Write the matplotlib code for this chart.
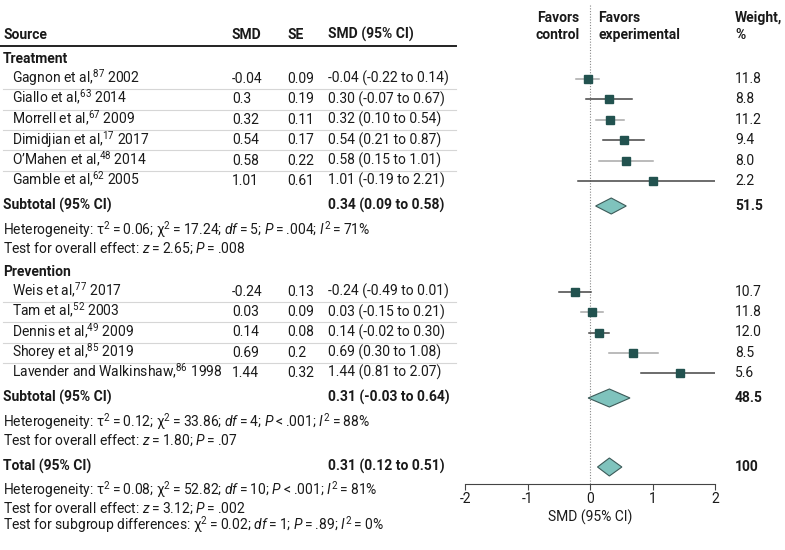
import matplotlib
matplotlib.use("Agg")
import matplotlib.pyplot as plt

plt.rcParams['font.family'] = ['Roboto', 'DejaVu Sans']
plt.rcParams['mathtext.fontset'] = 'custom'
plt.rcParams['mathtext.rm'] = 'Roboto'
plt.rcParams['mathtext.it'] = 'Roboto:italic'
plt.rcParams['mathtext.bf'] = 'Roboto:bold'
plt.rcParams['axes.unicode_minus'] = False

# data
treat_names = ["Gagnon et al,$^{87}$ 2002", "Giallo et al,$^{63}$ 2014", "Morrell et al,$^{67}$ 2009",
               "Dimidjian et al,$^{17}$ 2017", "O\u2019Mahen et al,$^{48}$ 2014", "Gamble et al,$^{62}$ 2005"]
treat_smd = [-0.04, 0.3, 0.32, 0.54, 0.58, 1.01]
treat_se = [0.09, 0.19, 0.11, 0.17, 0.22, 0.61]
treat_lo = [-0.22, -0.07, 0.10, 0.21, 0.15, -0.19]
treat_hi = [0.14, 0.67, 0.54, 0.87, 1.01, 2.21]
treat_w = [11.8, 8.8, 11.2, 9.4, 8.0, 2.2]

prev_names = ["Weis et al,$^{77}$ 2017", "Tam et al,$^{52}$ 2003", "Dennis et al,$^{49}$ 2009",
              "Shorey et al,$^{85}$ 2019", "Lavender and Walkinshaw,$^{86}$ 1998"]
prev_smd = [-0.24, 0.03, 0.14, 0.69, 1.44]
prev_se = [0.13, 0.09, 0.08, 0.2, 0.32]
prev_lo = [-0.49, -0.15, -0.02, 0.30, 0.81]
prev_hi = [0.01, 0.21, 0.30, 1.08, 2.07]
prev_w = [10.7, 11.8, 12.0, 8.5, 5.6]

# pooled: estimate, low, high, weight
sub_treat = [0.34, 0.09, 0.58, 51.5]
sub_prev = [0.31, -0.03, 0.64, 48.5]
total = [0.31, 0.12, 0.51, 100]

E = "\u2009=\u2009"
L = "\u2009<\u2009"
het_treat = ["Heterogeneity: \u03c4$^2$" + E + "0.06; \u03c7$^2$" + E + "17.24; $df$" + E + "5; $P$" + E + ".004; $I^2$" + E + "71%",
             "Test for overall effect: $z$" + E + "2.65; $P$" + E + ".008"]
het_prev = ["Heterogeneity: \u03c4$^2$" + E + "0.12; \u03c7$^2$" + E + "33.86; $df$" + E + "4; $P$" + L + ".001; $I^2$" + E + "88%",
            "Test for overall effect: $z$" + E + "1.80; $P$" + E + ".07"]
het_total = ["Heterogeneity: \u03c4$^2$" + E + "0.08; \u03c7$^2$" + E + "52.82; $df$" + E + "10; $P$" + L + ".001; $I^2$" + E + "81%",
             "Test for overall effect: $z$" + E + "3.12; $P$" + E + ".002",
             "Test for subgroup differences: \u03c7$^2$" + E + "0.02; $df$" + E + "1; $P$" + E + ".89; $I^2$" + E + "0%"]

xticks = [-2, -1, 0, 1, 2]

sq_color = "#22524f"
dia_color = "#7fc3bd"
txt = "#1a1a1a"
fs = 10
bl = 4  # baseline offset below row centre


def put(x, y, s, bold=False, ha='left', ax=None):
    (ax or tax).text(x, y + bl, s, ha=ha, va='baseline', fontsize=fs,
                     fontweight='bold' if bold else 'normal', color=txt)


fig = plt.figure(figsize=(7.85, 5.5), dpi=100)
tax = fig.add_axes([0, 0, 1, 1])
tax.set_xlim(0, 785)
tax.set_ylim(550, 0)
tax.axis('off')

fax = fig.add_axes([465 / 785, 0, 250 / 785, 1])
fax.set_xlim(-2, 2)
fax.set_ylim(550, 0)
fax.patch.set_alpha(0)
for s in ['top', 'right', 'left']:
    fax.spines[s].set_visible(False)
fax.spines['bottom'].set_position(('data', 484))
fax.spines['bottom'].set_color('#444444')
fax.spines['bottom'].set_bounds(-2, 2)
fax.set_yticks([])
fax.set_xticks(xticks)
fax.set_xticklabels([str(t) for t in xticks], fontsize=fs, color=txt)
fax.tick_params(axis='x', direction='out', length=4, color='#444444', pad=2)
put(0, 518, "SMD (95% CI)", ha='center', ax=fax)

# null line
fax.plot([0, 0], [5, 484], ls=(0, (1, 1.5)), color='#888888', lw=0.8)

# header
put(-0.17, 18, "Favors", True, 'right', fax)
put(-0.17, 35, "control", True, 'right', fax)
put(0.13, 18, "Favors", True, 'left', fax)
put(0.13, 35, "experimental", True, 'left', fax)
put(735, 18, "Weight,", True)
put(735, 35, "%", True)

xs, xsmd, xse, xci, xw = 3, 232, 287, 328, 735
for x, s in [(xs, "Source"), (xsmd, "SMD"), (xse, "SE"), (xci, "SMD (95% CI)")]:
    put(x, 35, s, True)
tax.plot([0, 456], [46, 46], color='#222222', lw=1.4)


def study_block(names, smd, se, lo, hi, w, y0, step, first_grey):
    ys = [y0 + i * step for i in range(len(names))]
    for i, y in enumerate(ys):
        put(12, y, names[i])
        put(xsmd, y, "%g" % smd[i])
        put(xse, y, "%g" % se[i])
        put(xci, y, "%.2f (%.2f to %.2f)" % (smd[i], lo[i], hi[i]))
        put(xw, y, "%.1f" % w[i])
        grey = (i % 2 == 0) == first_grey
        lc = '#a8a8a8' if grey else '#444444'
        fax.plot([lo[i], hi[i]], [y, y], color=lc, lw=1.1, zorder=2)
        fax.plot(smd[i], y, marker='s', ms=5.2 + 0.08 * w[i], color=sq_color, zorder=3)
        if i < len(ys) - 1:
            tax.plot([3, 456], [y + step / 2, y + step / 2], color='#d6d6d6', lw=0.8)
    return ys


def pooled(label, vals, y, h):
    est, lo, hi, w = vals
    put(xs, y, label, True)
    put(xci, y, "%.2f (%.2f to %.2f)" % (est, lo, hi), True)
    put(xw, y, "%g" % w, True)
    fax.fill([lo, est, hi, est], [y, y - h, y, y + h], facecolor=dia_color,
             edgecolor='#3c5a58', lw=0.8, zorder=3)


put(xs, 59, "Treatment", True)
study_block(treat_names, treat_smd, treat_se, treat_lo, treat_hi, treat_w, 79, 20.4, True)
pooled("Subtotal (95% CI)", sub_treat, 206, 8)
for i, s in enumerate(het_treat):
    put(xs, 231 + i * 18, s)

put(xs, 272, "Prevention", True)
study_block(prev_names, prev_smd, prev_se, prev_lo, prev_hi, prev_w, 292, 20.25, False)
pooled("Subtotal (95% CI)", sub_prev, 398, 9)
for i, s in enumerate(het_prev):
    put(xs, 423 + i * 18, s)

pooled("Total (95% CI)", total, 467, 9)
for i, s in enumerate(het_total):
    put(xs, 491 + i * 17.5, s)

fig.savefig("out.png", dpi=100)
